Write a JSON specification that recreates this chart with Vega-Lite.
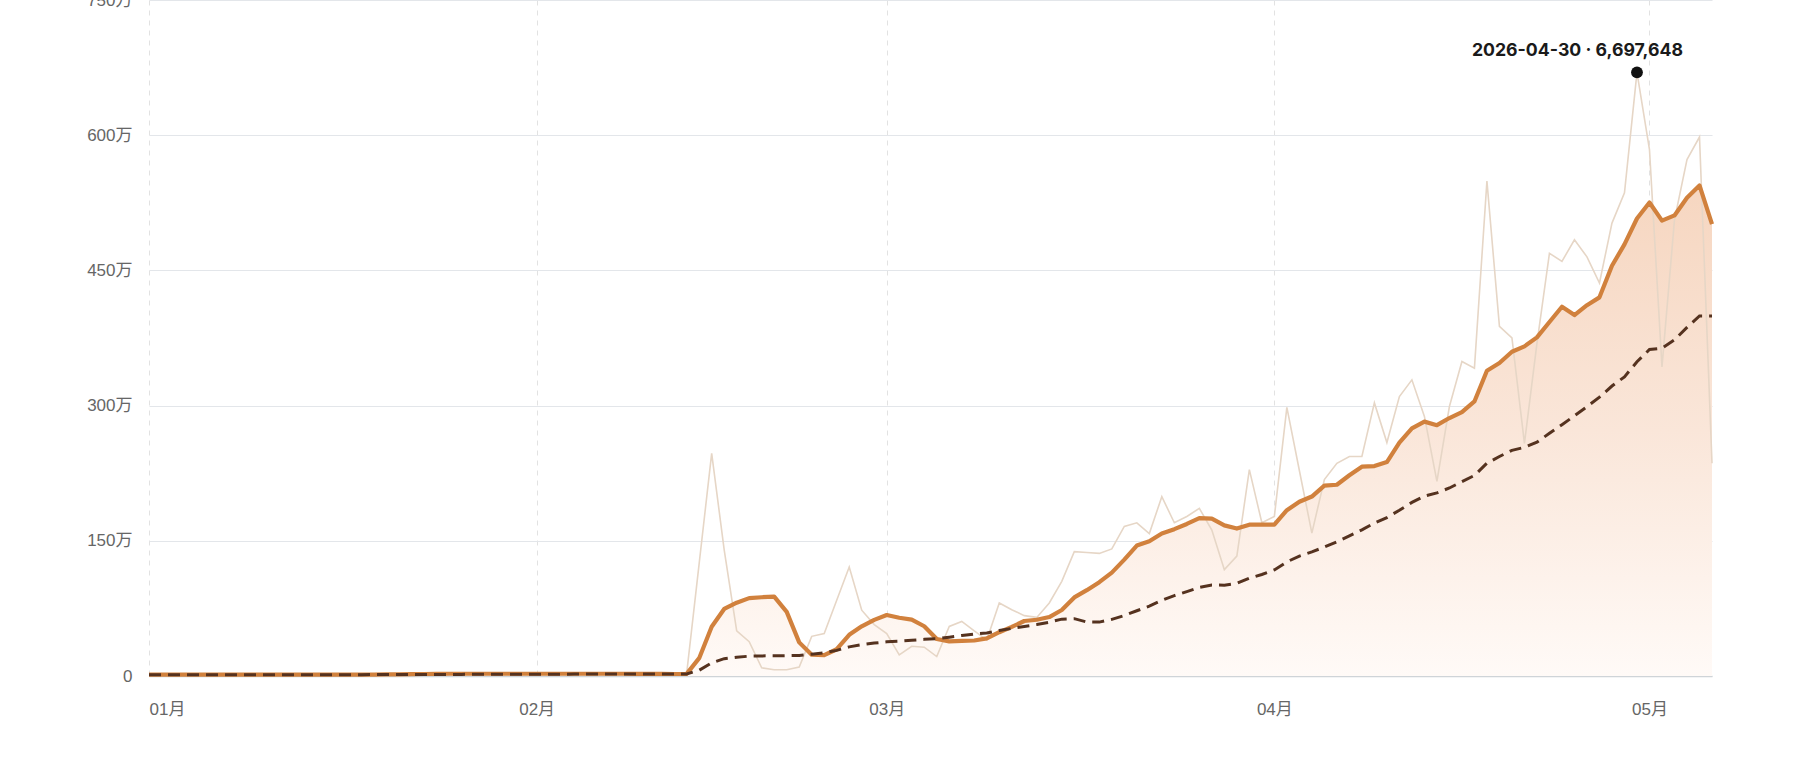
{
  "$schema": "https://vega.github.io/schema/vega-lite/v6.json",
  "width": 1563,
  "height": 676,
  "autosize": {"type": "none"},
  "padding": {"left": 149, "top": 0, "right": 88, "bottom": 90},
  "background": "#ffffff",
  "config": {
    "view": {"stroke": null},
    "font": "Liberation Sans, Noto Sans CJK SC",
    "axis": {
      "labelFont": "Liberation Sans, Noto Sans CJK SC",
      "labelFontSize": 17,
      "labelColor": "#666666",
      "ticks": false,
      "tickSize": 0,
      "title": null
    }
  },
  "data": {
    "values": [
      {"date": "2026-01-01T00:00", "daily": 15000, "ma7": 15000, "ma30": 15000},
      {"date": "2026-01-02T00:00", "daily": 15000, "ma7": 15000, "ma30": 15000},
      {"date": "2026-01-03T00:00", "daily": 15000, "ma7": 15000, "ma30": 15000},
      {"date": "2026-01-04T00:00", "daily": 15000, "ma7": 15000, "ma30": 15000},
      {"date": "2026-01-05T00:00", "daily": 15000, "ma7": 15000, "ma30": 15000},
      {"date": "2026-01-06T00:00", "daily": 15000, "ma7": 15000, "ma30": 15000},
      {"date": "2026-01-07T00:00", "daily": 15000, "ma7": 15000, "ma30": 15000},
      {"date": "2026-01-08T00:00", "daily": 15000, "ma7": 15000, "ma30": 15000},
      {"date": "2026-01-09T00:00", "daily": 15000, "ma7": 15000, "ma30": 15000},
      {"date": "2026-01-10T00:00", "daily": 15000, "ma7": 15000, "ma30": 15000},
      {"date": "2026-01-11T00:00", "daily": 15000, "ma7": 15000, "ma30": 15000},
      {"date": "2026-01-12T00:00", "daily": 15000, "ma7": 15000, "ma30": 15000},
      {"date": "2026-01-13T00:00", "daily": 15000, "ma7": 15000, "ma30": 15000},
      {"date": "2026-01-14T00:00", "daily": 15000, "ma7": 15000, "ma30": 15000},
      {"date": "2026-01-15T00:00", "daily": 15000, "ma7": 15000, "ma30": 15000},
      {"date": "2026-01-16T00:00", "daily": 15000, "ma7": 15000, "ma30": 15000},
      {"date": "2026-01-17T00:00", "daily": 15000, "ma7": 15000, "ma30": 15000},
      {"date": "2026-01-18T00:00", "daily": 15000, "ma7": 15000, "ma30": 15000},
      {"date": "2026-01-19T00:00", "daily": 25000, "ma7": 16000, "ma30": 15500},
      {"date": "2026-01-20T00:00", "daily": 25000, "ma7": 18000, "ma30": 16000},
      {"date": "2026-01-21T00:00", "daily": 25000, "ma7": 19000, "ma30": 16500},
      {"date": "2026-01-22T00:00", "daily": 25000, "ma7": 21000, "ma30": 17000},
      {"date": "2026-01-23T00:00", "daily": 25000, "ma7": 22000, "ma30": 17000},
      {"date": "2026-01-24T00:00", "daily": 25000, "ma7": 24000, "ma30": 17500},
      {"date": "2026-01-25T00:00", "daily": 25000, "ma7": 25000, "ma30": 18000},
      {"date": "2026-01-26T00:00", "daily": 25000, "ma7": 25000, "ma30": 18000},
      {"date": "2026-01-27T00:00", "daily": 25000, "ma7": 25000, "ma30": 18500},
      {"date": "2026-01-28T00:00", "daily": 25000, "ma7": 25000, "ma30": 18500},
      {"date": "2026-01-29T00:00", "daily": 25000, "ma7": 25000, "ma30": 19000},
      {"date": "2026-01-30T00:00", "daily": 25000, "ma7": 25000, "ma30": 19000},
      {"date": "2026-01-31T00:00", "daily": 25000, "ma7": 25000, "ma30": 19500},
      {"date": "2026-02-01T00:00", "daily": 25000, "ma7": 25000, "ma30": 20000},
      {"date": "2026-02-02T00:00", "daily": 25000, "ma7": 25000, "ma30": 20000},
      {"date": "2026-02-03T00:00", "daily": 25000, "ma7": 25000, "ma30": 20500},
      {"date": "2026-02-04T00:00", "daily": 25000, "ma7": 25000, "ma30": 21000},
      {"date": "2026-02-05T00:00", "daily": 25000, "ma7": 25000, "ma30": 21000},
      {"date": "2026-02-06T00:00", "daily": 25000, "ma7": 25000, "ma30": 21500},
      {"date": "2026-02-07T00:00", "daily": 25000, "ma7": 25000, "ma30": 22000},
      {"date": "2026-02-08T00:00", "daily": 25000, "ma7": 25000, "ma30": 22000},
      {"date": "2026-02-09T00:00", "daily": 20000, "ma7": 24000, "ma30": 22000},
      {"date": "2026-02-10T00:00", "daily": 20000, "ma7": 24000, "ma30": 22500},
      {"date": "2026-02-11T00:00", "daily": 20000, "ma7": 23000, "ma30": 22500},
      {"date": "2026-02-12T00:00", "daily": 20000, "ma7": 22000, "ma30": 23000},
      {"date": "2026-02-13T00:00", "daily": 30000, "ma7": 23000, "ma30": 23000},
      {"date": "2026-02-14T00:00", "daily": 1250000, "ma7": 198000, "ma30": 64000},
      {"date": "2026-02-15T00:00", "daily": 2470000, "ma7": 547000, "ma30": 146000},
      {"date": "2026-02-16T00:00", "daily": 1400000, "ma7": 744000, "ma30": 192000},
      {"date": "2026-02-17T00:00", "daily": 500000, "ma7": 813000, "ma30": 209000},
      {"date": "2026-02-18T00:00", "daily": 380000, "ma7": 864000, "ma30": 220000},
      {"date": "2026-02-19T00:00", "daily": 90000, "ma7": 874000, "ma30": 223000},
      {"date": "2026-02-20T00:00", "daily": 70000, "ma7": 880000, "ma30": 224000},
      {"date": "2026-02-21T00:00", "daily": 70000, "ma7": 711000, "ma30": 226000},
      {"date": "2026-02-22T00:00", "daily": 100000, "ma7": 373000, "ma30": 228000},
      {"date": "2026-02-23T00:00", "daily": 440000, "ma7": 236000, "ma30": 242000},
      {"date": "2026-02-24T00:00", "daily": 470000, "ma7": 231000, "ma30": 257000},
      {"date": "2026-02-25T00:00", "daily": 840000, "ma7": 297000, "ma30": 284000},
      {"date": "2026-02-26T00:00", "daily": 1210000, "ma7": 457000, "ma30": 323000},
      {"date": "2026-02-27T00:00", "daily": 730000, "ma7": 551000, "ma30": 347000},
      {"date": "2026-02-28T00:00", "daily": 570000, "ma7": 623000, "ma30": 365000},
      {"date": "2026-03-01T00:00", "daily": 470000, "ma7": 676000, "ma30": 380000},
      {"date": "2026-03-02T00:00", "daily": 235000, "ma7": 646000, "ma30": 387000},
      {"date": "2026-03-03T00:00", "daily": 330000, "ma7": 626000, "ma30": 397000},
      {"date": "2026-03-04T00:00", "daily": 320000, "ma7": 552000, "ma30": 407000},
      {"date": "2026-03-05T00:00", "daily": 216000, "ma7": 410000, "ma30": 413000},
      {"date": "2026-03-06T00:00", "daily": 550000, "ma7": 384000, "ma30": 431000},
      {"date": "2026-03-07T00:00", "daily": 605000, "ma7": 389000, "ma30": 450000},
      {"date": "2026-03-08T00:00", "daily": 500000, "ma7": 394000, "ma30": 466000},
      {"date": "2026-03-09T00:00", "daily": 400000, "ma7": 417000, "ma30": 478000},
      {"date": "2026-03-10T00:00", "daily": 810000, "ma7": 486000, "ma30": 505000},
      {"date": "2026-03-11T00:00", "daily": 735000, "ma7": 545000, "ma30": 528000},
      {"date": "2026-03-12T00:00", "daily": 670000, "ma7": 610000, "ma30": 550000},
      {"date": "2026-03-13T00:00", "daily": 650000, "ma7": 624000, "ma30": 571000},
      {"date": "2026-03-14T00:00", "daily": 810000, "ma7": 654000, "ma30": 597000},
      {"date": "2026-03-15T00:00", "daily": 1050000, "ma7": 732000, "ma30": 631000},
      {"date": "2026-03-16T00:00", "daily": 1380000, "ma7": 872000, "ma30": 636000},
      {"date": "2026-03-17T00:00", "daily": 1370000, "ma7": 952000, "ma30": 599000},
      {"date": "2026-03-18T00:00", "daily": 1360000, "ma7": 1041000, "ma30": 598000},
      {"date": "2026-03-19T00:00", "daily": 1410000, "ma7": 1147000, "ma30": 628000},
      {"date": "2026-03-20T00:00", "daily": 1660000, "ma7": 1291000, "ma30": 671000},
      {"date": "2026-03-21T00:00", "daily": 1700000, "ma7": 1447000, "ma30": 724000},
      {"date": "2026-03-22T00:00", "daily": 1580000, "ma7": 1494000, "ma30": 775000},
      {"date": "2026-03-23T00:00", "daily": 1990000, "ma7": 1581000, "ma30": 839000},
      {"date": "2026-03-24T00:00", "daily": 1700000, "ma7": 1629000, "ma30": 892000},
      {"date": "2026-03-25T00:00", "daily": 1770000, "ma7": 1687000, "ma30": 936000},
      {"date": "2026-03-26T00:00", "daily": 1860000, "ma7": 1751000, "ma30": 983000},
      {"date": "2026-03-27T00:00", "daily": 1620000, "ma7": 1746000, "ma30": 1009000},
      {"date": "2026-03-28T00:00", "daily": 1180000, "ma7": 1671000, "ma30": 1008000},
      {"date": "2026-03-29T00:00", "daily": 1330000, "ma7": 1636000, "ma30": 1028000},
      {"date": "2026-03-30T00:00", "daily": 2290000, "ma7": 1679000, "ma30": 1085000},
      {"date": "2026-03-31T00:00", "daily": 1700000, "ma7": 1679000, "ma30": 1126000},
      {"date": "2026-04-01T00:00", "daily": 1770000, "ma7": 1679000, "ma30": 1177000},
      {"date": "2026-04-02T00:00", "daily": 2980000, "ma7": 1839000, "ma30": 1266000},
      {"date": "2026-04-03T00:00", "daily": 2280000, "ma7": 1933000, "ma30": 1331000},
      {"date": "2026-04-04T00:00", "daily": 1585000, "ma7": 1991000, "ma30": 1377000},
      {"date": "2026-04-05T00:00", "daily": 2180000, "ma7": 2112000, "ma30": 1431000},
      {"date": "2026-04-06T00:00", "daily": 2360000, "ma7": 2122000, "ma30": 1489000},
      {"date": "2026-04-07T00:00", "daily": 2435000, "ma7": 2227000, "ma30": 1554000},
      {"date": "2026-04-08T00:00", "daily": 2435000, "ma7": 2322000, "ma30": 1622000},
      {"date": "2026-04-09T00:00", "daily": 3030000, "ma7": 2329000, "ma30": 1696000},
      {"date": "2026-04-10T00:00", "daily": 2590000, "ma7": 2374000, "ma30": 1758000},
      {"date": "2026-04-11T00:00", "daily": 3100000, "ma7": 2590000, "ma30": 1839000},
      {"date": "2026-04-12T00:00", "daily": 3286000, "ma7": 2748000, "ma30": 1926000},
      {"date": "2026-04-13T00:00", "daily": 2880000, "ma7": 2822000, "ma30": 1995000},
      {"date": "2026-04-14T00:00", "daily": 2160000, "ma7": 2783000, "ma30": 2032000},
      {"date": "2026-04-15T00:00", "daily": 2990000, "ma7": 2862000, "ma30": 2086000},
      {"date": "2026-04-16T00:00", "daily": 3490000, "ma7": 2928000, "ma30": 2157000},
      {"date": "2026-04-17T00:00", "daily": 3416000, "ma7": 3046000, "ma30": 2225000},
      {"date": "2026-04-18T00:00", "daily": 5490000, "ma7": 3387000, "ma30": 2361000},
      {"date": "2026-04-19T00:00", "daily": 3880000, "ma7": 3472000, "ma30": 2435000},
      {"date": "2026-04-20T00:00", "daily": 3750000, "ma7": 3597000, "ma30": 2504000},
      {"date": "2026-04-21T00:00", "daily": 2580000, "ma7": 3657000, "ma30": 2537000},
      {"date": "2026-04-22T00:00", "daily": 3690000, "ma7": 3757000, "ma30": 2594000},
      {"date": "2026-04-23T00:00", "daily": 4690000, "ma7": 3928000, "ma30": 2693000},
      {"date": "2026-04-24T00:00", "daily": 4600000, "ma7": 4097000, "ma30": 2788000},
      {"date": "2026-04-25T00:00", "daily": 4840000, "ma7": 4004000, "ma30": 2887000},
      {"date": "2026-04-26T00:00", "daily": 4650000, "ma7": 4114000, "ma30": 2988000},
      {"date": "2026-04-27T00:00", "daily": 4360000, "ma7": 4201000, "ma30": 3094000},
      {"date": "2026-04-28T00:00", "daily": 5025000, "ma7": 4551000, "ma30": 3217000},
      {"date": "2026-04-29T00:00", "daily": 5360000, "ma7": 4789000, "ma30": 3319000},
      {"date": "2026-04-30T00:00", "daily": 6697648, "ma7": 5076000, "ma30": 3486000},
      {"date": "2026-05-01T00:00", "daily": 5840000, "ma7": 5253000, "ma30": 3622000},
      {"date": "2026-05-02T00:00", "daily": 3430000, "ma7": 5052000, "ma30": 3637000},
      {"date": "2026-05-03T00:00", "daily": 5060000, "ma7": 5110000, "ma30": 3729000},
      {"date": "2026-05-04T00:00", "daily": 5730000, "ma7": 5306000, "ma30": 3868000},
      {"date": "2026-05-05T00:00", "daily": 5980000, "ma7": 5443000, "ma30": 3994000},
      {"date": "2026-05-06T00:00", "daily": 2360000, "ma7": 5014000, "ma30": 3994000}
    ]
  },
  "encoding": {
    "x": {
      "field": "date",
      "type": "temporal",
      "scale": {
        "domain": [
          {"year": 2026, "month": 1, "date": 1},
          {"year": 2026, "month": 5, "date": 6}
        ]
      },
      "axis": {
        "values": [
          {"year": 2026, "month": 1, "date": 1},
          {"year": 2026, "month": 2, "date": 1},
          {"year": 2026, "month": 3, "date": 1},
          {"year": 2026, "month": 4, "date": 1},
          {"year": 2026, "month": 5, "date": 1}
        ],
        "format": "%m月",
        "grid": true,
        "gridColor": "#e2e2e2",
        "gridDash": [5, 5],
        "gridWidth": 1,
        "domain": true,
        "domainColor": "#cfd4d8",
        "domainWidth": 1.5,
        "labelPadding": 25,
        "labelFlush": true
      }
    }
  },
  "layer": [
    {
      "mark": {
        "type": "area",
        "color": {
          "gradient": "linear",
          "x1": 0,
          "y1": 0,
          "x2": 0,
          "y2": 1,
          "stops": [
            {"offset": 0, "color": "#f6d6c0"},
            {"offset": 0.5, "color": "#fae6d9"},
            {"offset": 1, "color": "#fffaf7"}
          ]
        }
      },
      "encoding": {
        "y": {
          "field": "ma7",
          "type": "quantitative",
          "scale": {"domain": [0, 7500000], "nice": false},
          "axis": {
            "values": [0, 1500000, 3000000, 4500000, 6000000, 7500000],
            "labelExpr": "datum.value == 0 ? '0' : format(datum.value / 10000, 'd') + '万'",
            "grid": true,
            "gridColor": "#e3e6ea",
            "gridWidth": 1.2,
            "domain": false,
            "labelPadding": 17
          }
        }
      }
    },
    {
      "mark": {"type": "line", "color": "#e6d6c6", "strokeWidth": 1.6},
      "encoding": {"y": {"field": "daily", "type": "quantitative"}}
    },
    {
      "mark": {"type": "line", "color": "#d1813d", "strokeWidth": 4.2, "strokeJoin": "round"},
      "encoding": {"y": {"field": "ma7", "type": "quantitative"}}
    },
    {
      "mark": {"type": "line", "color": "#55321f", "strokeWidth": 3, "strokeDash": [12, 7]},
      "encoding": {"y": {"field": "ma30", "type": "quantitative"}}
    },
    {
      "data": {"values": [{"date": "2026-04-30T00:00", "daily": 6697648, "label": "2026-04-30 · 6,697,648"}]},
      "mark": {"type": "point", "filled": true, "size": 140, "color": "#111111", "opacity": 1},
      "encoding": {"y": {"field": "daily", "type": "quantitative"}}
    },
    {
      "data": {"values": [{"date": "2026-04-30T00:00", "daily": 6697648, "label": "2026-04-30 · 6,697,648"}]},
      "mark": {
        "type": "text",
        "align": "right",
        "baseline": "middle",
        "dx": 46,
        "dy": -21,
        "font": "Inter",
        "fontSize": 17.7,
        "fontWeight": "bold",
        "color": "#1a1a1a"
      },
      "encoding": {
        "y": {"field": "daily", "type": "quantitative"},
        "text": {"field": "label", "type": "nominal"}
      }
    }
  ]
}
